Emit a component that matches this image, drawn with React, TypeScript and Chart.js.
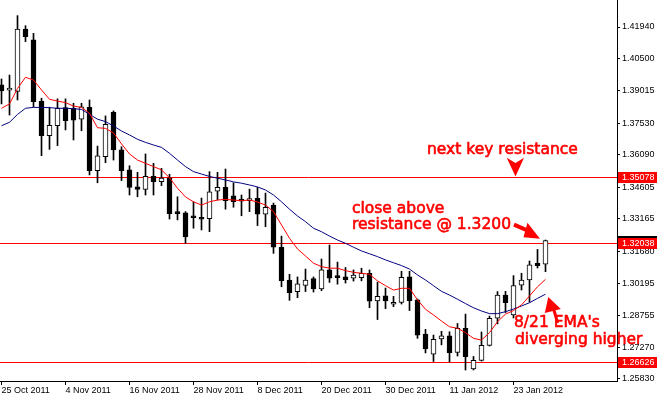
import React, { useEffect, useRef } from 'react';
import { Chart, registerables } from 'chart.js';

Chart.register(...registerables);

// ---- data ----
const dateLabels = ['25 Oct 2011', '4 Nov 2011', '16 Nov 2011', '28 Nov 2011', '8 Dec 2011', '20 Dec 2011', '30 Dec 2011', '11 Jan 2012', '23 Jan 2012'];
const dateTickIndex = [0, 8, 16, 24, 32, 40, 48, 56, 64];
const priceTicks = [1.4194, 1.405, 1.39015, 1.3753, 1.3609, 1.34605, 1.33165, 1.3168, 1.30195, 1.28755, 1.2727, 1.2583];

const opens = [1.3929, 1.3905, 1.3899, 1.4185, 1.4135, 1.3855, 1.3697, 1.3742, 1.3825, 1.3822,
  1.3772, 1.3826, 1.3536, 1.3600, 1.3804, 1.3632, 1.3540, 1.3462, 1.3451, 1.3511,
  1.3486, 1.3504, 1.3342, 1.3343, 1.3323, 1.3320, 1.3317, 1.3443, 1.3460, 1.3421,
  1.3399, 1.3399, 1.3410, 1.3337, 1.3379, 1.3186, 1.3036, 1.2983, 1.3011, 1.3043,
  1.2995, 1.3082, 1.3049, 1.3051, 1.3044, 1.3047, 1.3067, 1.2940, 1.2963, 1.2925,
  1.2933, 1.3050, 1.2945, 1.2789, 1.2697, 1.2766, 1.2781, 1.2704, 1.2815, 1.2629,
  1.2668, 1.2737, 1.2861, 1.2967, 1.2876, 1.3012, 1.3036, 1.3112, 1.3109];
const highs = [1.3956, 1.3974, 1.4246, 1.4200, 1.4165, 1.3868, 1.3827, 1.3865, 1.3865, 1.3845,
  1.3845, 1.3860, 1.3649, 1.3787, 1.3810, 1.3646, 1.3559, 1.3529, 1.3613, 1.3570,
  1.3547, 1.3520, 1.3417, 1.3349, 1.3394, 1.3411, 1.3532, 1.3529, 1.3544, 1.3481,
  1.3425, 1.3452, 1.3460, 1.3434, 1.3388, 1.3237, 1.3062, 1.3050, 1.3086, 1.3050,
  1.3132, 1.3196, 1.3118, 1.3093, 1.3082, 1.3090, 1.3082, 1.3026, 1.2999, 1.2961,
  1.3076, 1.3076, 1.2949, 1.2810, 1.2784, 1.2801, 1.2799, 1.2837, 1.2880, 1.2686,
  1.2798, 1.2871, 1.2983, 1.2984, 1.3056, 1.3067, 1.3123, 1.3176, 1.3219];
const lows = [1.3842, 1.3791, 1.3860, 1.4127, 1.3829, 1.3605, 1.3634, 1.3651, 1.3723, 1.3677,
  1.3719, 1.3517, 1.3481, 1.3573, 1.3585, 1.3491, 1.3425, 1.3417, 1.3425, 1.3425,
  1.3468, 1.3315, 1.3311, 1.3204, 1.3273, 1.3265, 1.3257, 1.3402, 1.3360, 1.3369,
  1.3330, 1.3349, 1.3285, 1.3280, 1.3158, 1.3005, 1.2943, 1.2955, 1.2983, 1.2981,
  1.2987, 1.3025, 1.3017, 1.3022, 1.3031, 1.3032, 1.2909, 1.2855, 1.2905, 1.2914,
  1.2926, 1.2896, 1.2769, 1.2702, 1.2663, 1.2739, 1.2661, 1.2688, 1.2624, 1.2624,
  1.2665, 1.2734, 1.2835, 1.2887, 1.2862, 1.2990, 1.2935, 1.3091, 1.3074];
const closes = [1.3902, 1.3907, 1.4184, 1.4150, 1.3852, 1.3697, 1.3744, 1.3822, 1.3765, 1.3768,
  1.3829, 1.3536, 1.3604, 1.3749, 1.3631, 1.3536, 1.3460, 1.3451, 1.3511, 1.3486,
  1.3502, 1.3340, 1.3340, 1.3233, 1.3321, 1.3314, 1.3440, 1.3460, 1.3399, 1.3394,
  1.3397, 1.3408, 1.3337, 1.3369, 1.3186, 1.3033, 1.2978, 1.3018, 1.3036, 1.2995,
  1.3082, 1.3044, 1.3047, 1.3038, 1.3059, 1.3067, 1.2939, 1.2961, 1.2940, 1.2934,
  1.3048, 1.2941, 1.2784, 1.2720, 1.2765, 1.2780, 1.2703, 1.2815, 1.2685, 1.2668,
  1.2737, 1.2861, 1.2967, 1.2932, 1.3011, 1.3036, 1.3105, 1.3102, 1.3216];
const ema8 = [1.3822, 1.3842, 1.3913, 1.3964, 1.3951, 1.3906, 1.3863, 1.3855, 1.3848, 1.3832,
  1.3826, 1.3799, 1.3733, 1.3730, 1.3709, 1.3659, 1.3613, 1.3585, 1.3570, 1.3555,
  1.3540, 1.3504, 1.3456, 1.3416, 1.3394, 1.3379, 1.3394, 1.3402, 1.3405, 1.3402,
  1.3399, 1.3402, 1.3393, 1.3379, 1.3349, 1.3288, 1.3227, 1.3178, 1.3146, 1.3113,
  1.3097, 1.3090, 1.3090, 1.3079, 1.3071, 1.3067, 1.3062, 1.3032, 1.3010, 1.2990,
  1.2998, 1.2998, 1.2945, 1.2902, 1.2876, 1.2848, 1.2822, 1.2815, 1.2795, 1.2769,
  1.2761, 1.2795, 1.2845, 1.2880, 1.2896, 1.2922, 1.2963, 1.3005, 1.3039];
const ema21 = [1.3742, 1.3758, 1.3794, 1.3822, 1.3826, 1.3826, 1.3825, 1.3822, 1.3822, 1.3820,
  1.3817, 1.3794, 1.3772, 1.3761, 1.3741, 1.3718, 1.3700, 1.3680, 1.3666, 1.3654,
  1.3643, 1.3616, 1.3585, 1.3555, 1.3532, 1.3521, 1.3510, 1.3502, 1.3494, 1.3485,
  1.3479, 1.3471, 1.3462, 1.3448, 1.3425, 1.3394, 1.3360, 1.3329, 1.3303, 1.3273,
  1.3257, 1.3237, 1.3219, 1.3204, 1.3186, 1.3169, 1.3156, 1.3143, 1.3128, 1.3115,
  1.3102, 1.3086, 1.3059, 1.3036, 1.3010, 1.2984, 1.2967, 1.2948, 1.2928, 1.2909,
  1.2894, 1.2882, 1.2882, 1.2891, 1.2903, 1.2917, 1.2932, 1.2952, 1.2971];
const levelPrices = [1.35078, 1.32038, 1.26626];
const levelLabels = ['1.35078', '1.32038', '1.26626'];
const bidPrice = 1.3216;
const bidLabel = '1.32157';

const RED = '#ff0000';
const ANNOT_FONT = '15.5px "DejaVu Sans"';

const overlayPlugin = {
  id: 'overlay',
  beforeDatasetsDraw(chart: any) {
    const { ctx, chartArea, scales } = chart;
    const y = scales.y;
    ctx.save();
    ctx.strokeStyle = RED;
    ctx.lineWidth = 1;
    levelPrices.forEach((lv) => {
      const py = Math.round(y.getPixelForValue(lv)) + 0.5;
      ctx.beginPath();
      ctx.moveTo(chartArea.left, py);
      ctx.lineTo(chartArea.right, py);
      ctx.stroke();
    });
    ctx.restore();
  },
  afterDraw(chart: any) {
    const { ctx, chartArea, scales } = chart;
    const x = scales.x;
    const y = scales.y;
    const px = (i: number) => x.getPixelForValue(i);
    const py = (p: number) => y.getPixelForValue(p);
    ctx.save();

    // price tags on the axis
    const tag = (price: number, text: string, bg: string) => {
      const r = Math.round(py(price));
      ctx.fillStyle = bg;
      ctx.fillRect(chartArea.right + 1, r - 5, 40, 11);
      ctx.fillStyle = '#ffffff';
      ctx.font = '9px "Liberation Sans"';
      ctx.textAlign = 'left';
      ctx.textBaseline = 'middle';
      ctx.fillText(text, chartArea.right + 5, r + 0.5);
    };
    tag(bidPrice, bidLabel, '#000000');
    levelPrices.forEach((lv, k) => tag(lv, levelLabels[k], RED));

    // annotation texts
    ctx.fillStyle = RED;
    ctx.strokeStyle = RED;
    ctx.lineWidth = 0.6;
    ctx.lineJoin = 'round';
    ctx.font = ANNOT_FONT;
    ctx.textAlign = 'left';
    ctx.textBaseline = 'alphabetic';
    const notes: [string, number, number][] = [
      ['next key resistance', 53.19, 1.36127],
      ['close above', 43.81, 1.33413],
      ['resistance @ 1.3200', 43.81, 1.32681],
      ["8/21 EMA's", 64.06, 1.28209],
      ['diverging higher', 64.19, 1.27431],
    ];
    notes.forEach(([t, i, p]) => {
      ctx.fillText(t, px(i), py(p));
      ctx.strokeText(t, px(i), py(p));
    });

    const poly = (pts: number[][]) => {
      ctx.beginPath();
      ctx.moveTo(pts[0][0], pts[0][1]);
      for (let k = 1; k < pts.length; k++) ctx.lineTo(pts[k][0], pts[k][1]);
      ctx.closePath();
      ctx.fill();
    };
    const seg = (a: number[], b: number[], w: number) => {
      ctx.strokeStyle = RED;
      ctx.lineWidth = w;
      ctx.lineCap = 'butt';
      ctx.beginPath();
      ctx.moveTo(a[0], a[1]);
      ctx.lineTo(b[0], b[1]);
      ctx.stroke();
    };

    // down arrow above the resistance line
    const t3x = px(64.25), t3y = py(levelPrices[0]) - 0.5;
    poly([[t3x, t3y], [t3x - 8.8, t3y - 18.7], [t3x, t3y - 13.5], [t3x + 8.5, t3y - 18.7]]);

    // arrow to last candle
    const t1x = px(67.31), t1y = py(1.32251);
    seg([t1x - 26, t1y - 14], [t1x - 11, t1y - 7.5], 4);
    poly([[t1x, t1y], [t1x - 12.5, t1y - 16], [t1x - 16.5, t1y - 1.5]]);

    // arrow to EMAs
    const t2x = px(68.35), t2y = py(1.29582);
    seg([t2x + 5, t2y + 11], [t2x + 9.4, t2y + 26], 3);
    poly([[t2x, t2y], [t2x - 3.5, t2y + 16], [t2x + 12.5, t2y + 12]]);

    ctx.restore();
  },
};

export default function App() {
  const ref = useRef<HTMLCanvasElement | null>(null);

  useEffect(() => {
    if (!ref.current) return;
    Chart.defaults.font.family = '"Liberation Sans", Arial, sans-serif';
    Chart.defaults.font.size = 9;
    Chart.defaults.color = '#000000';

    const idx = opens.map((_, i) => i);
    const wickData = idx.map((i) => ({ x: i, y: [lows[i], highs[i]] }));
    const bodyData = idx.map((i) => ({ x: i, y: [opens[i], closes[i]] }));
    const bodyColors = idx.map((i) => (closes[i] > opens[i] ? '#ffffff' : '#000000'));

    const chart = new Chart(ref.current, {
      type: 'bar',
      data: {
        datasets: [
          {
            type: 'line',
            data: idx.map((i) => ({ x: i, y: ema8[i] })),
            borderColor: RED,
            borderWidth: 1,
            pointRadius: 0,
            tension: 0,
            order: 0,
          } as any,
          {
            type: 'line',
            data: idx.map((i) => ({ x: i, y: ema21[i] })),
            borderColor: '#000080',
            borderWidth: 1,
            pointRadius: 0,
            tension: 0,
            order: 1,
          } as any,
          {
            data: bodyData,
            backgroundColor: bodyColors,
            borderColor: '#000000',
            borderWidth: 1,
            borderSkipped: false,
            barThickness: 5,
            minBarLength: 2,
            grouped: false,
            order: 2,
          } as any,
          {
            data: wickData,
            backgroundColor: '#000000',
            borderWidth: 0,
            barThickness: 1,
            grouped: false,
            order: 3,
          } as any,
        ],
      },
      options: {
        responsive: false,
        devicePixelRatio: 1,
        animation: false,
        events: [],
        layout: { padding: 0 },
        plugins: { legend: { display: false }, tooltip: { enabled: false }, title: { display: false } },
        scales: {
          x: {
            type: 'linear',
            position: 'bottom',
            min: -0.1875,
            max: 76.9375,
            offset: false,
            bounds: 'data',
            grid: { display: true, drawOnChartArea: false, drawTicks: true, tickLength: 4, color: '#000000', offset: false },
            border: { display: true, color: '#000000', width: 1 },
            ticks: {
              autoSkip: false,
              maxRotation: 0,
              minRotation: 0,
              align: 'start',
              padding: 0,
              font: { size: 9, family: '"Liberation Sans"' },
              color: '#000000',
              callback: (v: any) => {
                const k = dateTickIndex.indexOf(Number(v));
                return k >= 0 ? dateLabels[k] : '';
              },
            },
            afterBuildTicks: (s: any) => {
              s.ticks = dateTickIndex.map((v) => ({ value: v }));
            },
            afterFit: (s: any) => {
              s.height = 16;
              s.paddingLeft = 0;
              s.paddingRight = 0;
              s.paddingTop = 0;
              s.paddingBottom = 0;
            },
          } as any,
          y: {
            type: 'linear',
            position: 'right',
            min: 1.25737,
            max: 1.43176,
            beginAtZero: false,
            bounds: 'data',
            grid: { display: true, drawOnChartArea: false, drawTicks: true, tickLength: 3, color: '#000000' },
            border: { display: true, color: '#000000', width: 1 },
            ticks: {
              autoSkip: false,
              padding: 2,
              font: { size: 9, family: '"Liberation Sans"' },
              color: '#000000',
              callback: (v: any) => Number(v).toFixed(5),
            },
            afterBuildTicks: (s: any) => {
              s.ticks = priceTicks.map((v) => ({ value: v }));
            },
            afterFit: (s: any) => {
              s.width = 40;
              s.paddingLeft = 0;
              s.paddingRight = 0;
              s.paddingTop = 0;
              s.paddingBottom = 0;
            },
          } as any,
        },
      } as any,
      plugins: [overlayPlugin],
    });
    return () => chart.destroy();
  }, []);

  return (
    <div style={{ position: 'fixed', left: 0, top: 0, width: 657, height: 397, background: '#ffffff' }}>
      <canvas ref={ref} width={657} height={397} style={{ display: 'block' }} />
    </div>
  );
}
